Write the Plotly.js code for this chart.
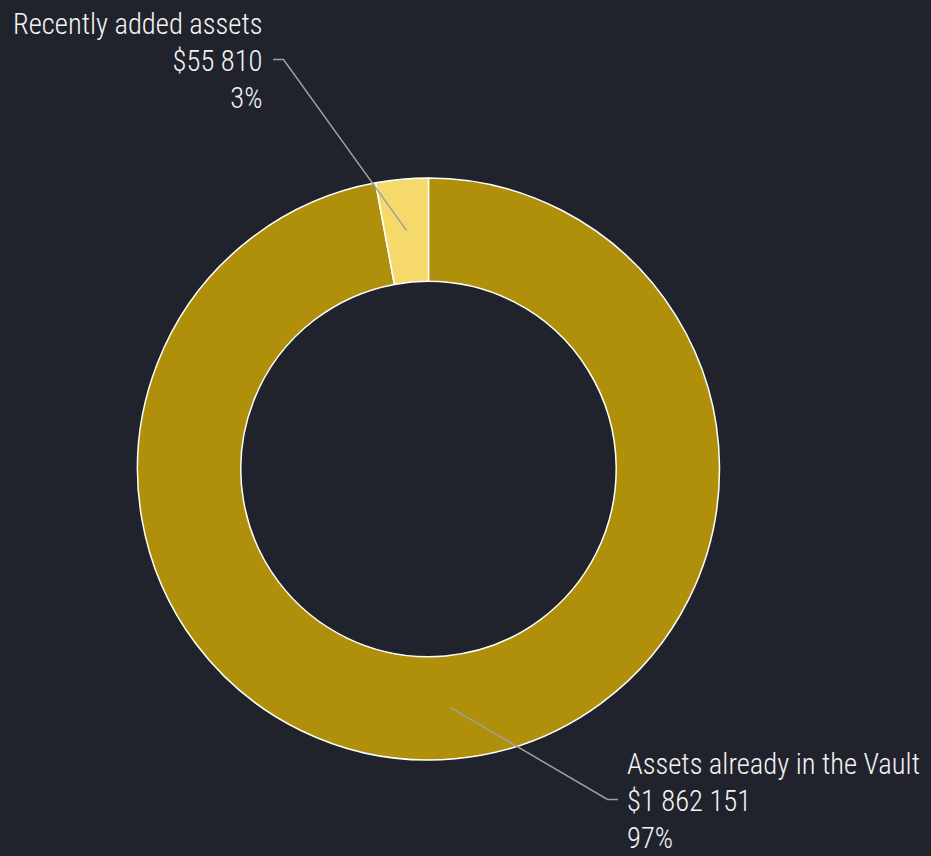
<!DOCTYPE html>
<html>
<head>
<meta charset="utf-8">
<script src="https://cdn.plot.ly/plotly-3.0.1.min.js"></script>
<style>
html,body{margin:0;padding:0;background:#21232c;}
#chart{width:931px;height:856px;}
</style>
</head>
<body>
<div id="chart"></div>
<script>
// ---- data ----
const labels = ['Recently added assets', 'Assets already in the Vault'];
const values = [55810, 1862151];
const colors = ['#f5d96b', '#b08f0b'];

// ---- layout constants (pixels) ----
const W = 931, H = 856;
const cx = 428.5, cy = 469, R = 291, HOLE = 0.645;
const FONT = 'Roboto Condensed, Liberation Sans Narrow, DejaVu Sans Condensed, sans-serif';
// label anchor: text edge (pixel) and the y of the connector
const labelSpec = [
  {side: 'left',  textX: 264, lineX: 273, y: 59.5},
  {side: 'right', textX: 625, lineX: 618, y: 799.5}
];

function fmtMoney(v){
  return '$' + String(v).replace(/\B(?=(\d{3})+(?!\d))/g, ' ');
}
const total = values.reduce((a,b)=>a+b,0);
const px2x = p => p / W;
const py2y = p => 1 - p / H;

const annotations = [];
const shapes = [];
let cum = 0;
values.forEach((v,i) => {
  const frac = v / total;
  const midAng = (cum + frac/2) * 2*Math.PI; // counterclockwise from 12 o'clock
  cum += frac;
  const rMid = R * (1 + HOLE) / 2;
  const tx = cx - rMid * Math.sin(midAng);
  const ty = cy - rMid * Math.cos(midAng);
  const s = labelSpec[i];
  const dir = s.side === 'left' ? 1 : -1;
  const hx = s.lineX + dir * 10.5;
  shapes.push({
    type: 'path', xref: 'paper', yref: 'paper',
    path: `M${px2x(s.lineX)},${py2y(s.y)} L${px2x(hx)},${py2y(s.y)} L${px2x(tx)},${py2y(ty)}`,
    line: {color: '#a0a0a0', width: 1.5}
  });
  const pct = Math.round(frac * 100) + '%';
  annotations.push({
    xref: 'paper', yref: 'paper',
    x: px2x(s.textX), y: py2y(s.y + 1),
    xanchor: s.side === 'left' ? 'right' : 'left',
    yanchor: 'middle',
    align: s.side === 'left' ? 'right' : 'left',
    showarrow: false,
    text: labels[i] + '<br>' + fmtMoney(v) + '<br>' + pct,
    font: {family: FONT, size: 28.6, weight: 300, color: '#f4f4f4'}
  });
});

// slices drawn clockwise from 12 o'clock in reversed order, so the first
// category ends up just counterclockwise of 12 o'clock
const trace = {
  type: 'pie',
  labels: labels.slice().reverse(),
  values: values.slice().reverse(),
  sort: false,
  direction: 'clockwise',
  rotation: 0,
  hole: HOLE,
  textinfo: 'none',
  hoverinfo: 'skip',
  marker: {colors: colors.slice().reverse(), line: {color: '#ffffff', width: 1.5}},
  domain: {
    x: [(cx - R) / W, (cx + R) / W],
    y: [(H - cy - R) / H, (H - cy + R) / H]
  },
  showlegend: false
};

const layout = {
  width: W, height: H,
  margin: {l: 0, r: 0, t: 0, b: 0},
  paper_bgcolor: '#21232c',
  plot_bgcolor: '#21232c',
  showlegend: false,
  annotations: annotations,
  shapes: shapes
};

Plotly.newPlot('chart', [trace], layout, {displayModeBar: false, staticPlot: true});
</script>
</body>
</html>
